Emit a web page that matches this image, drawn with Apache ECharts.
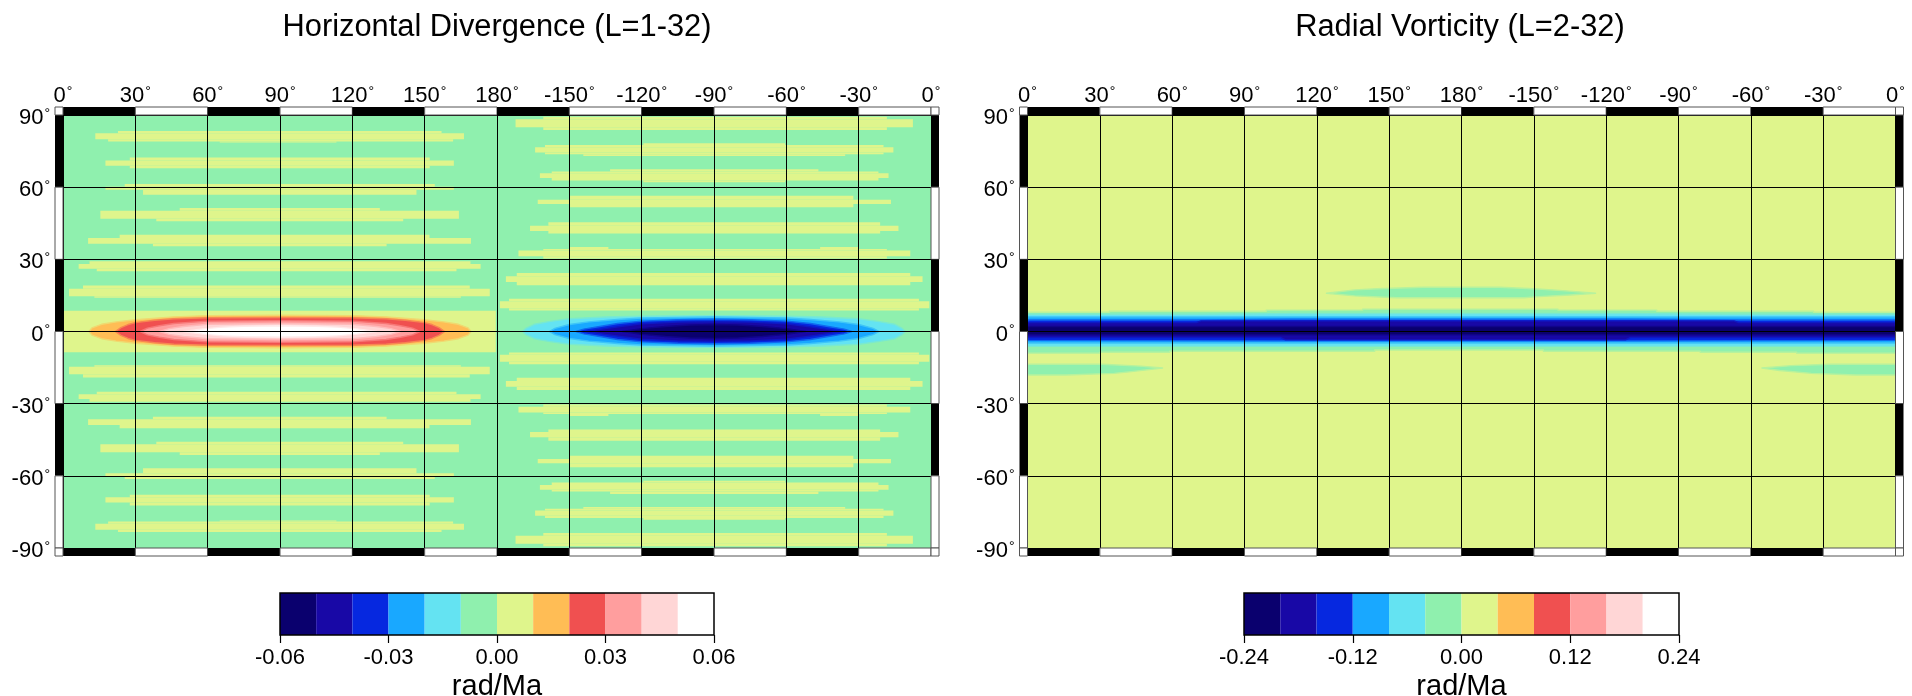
<!DOCTYPE html>
<html>
<head>
<meta charset="utf-8">
<style>html,body{margin:0;padding:0;background:#fff}#c{width:1912px;height:696px;filter:blur(0.4px)}</style>
<script src="https://cdn.jsdelivr.net/npm/echarts@6/dist/echarts.min.js"></script>
</head>
<body>
<div id="c"></div>
<script>
var palette = ['#0a006e','#1808a6','#0628e0','#19a8ff','#64e3f2','#8ff0ae','#dff58c','#ffbd55','#f05050','#ff9e9e','#ffd6d6','#ffffff'];
var lonTicks = ['0','30','60','90','120','150','180','-150','-120','-90','-60','-30','0'];
var latTicks = ['-90','-60','-30','0','30','60','90'];
var titles = ['Horizontal Divergence (L=1-32)','Radial Vorticity (L=2-32)'];
var barUnit = 'rad/Ma';
var divEdges = [-0.06,-0.05,-0.04,-0.03,-0.02,-0.01,0,0.01,0.02,0.03,0.04,0.05,0.06];
var vorEdges = [-0.24,-0.20,-0.16,-0.12,-0.08,-0.04,0,0.04,0.08,0.12,0.16,0.20,0.24];

// Horizontal divergence: positive stripes, north side [latTop, latBottom, lonStart, lonEnd]; the field is N-S symmetric
var divStripesNorth = [
 [83.4,82.4,22.8,157],[82.4,79.9,13.4,166.3],[79.9,79.0,18.7,161.8],[79.0,78.6,65,113.4],
 [72.3,71.1,27.7,152.1],[71.1,68.9,17.6,162.1],[68.9,67.9,27.7,152.1],
 [61.3,60.2,25.6,154.2],[60.2,58.9,17.6,162.1],[58.9,56.8,33.2,146.6],
 [51.3,50.2,48.4,131.4],[50.2,46.9,15.5,164.2],[46.9,45.8,38.7,141.1],
 [40.2,38.9,23.5,152],[38.9,36.5,10.4,169.2],[36.5,35.4,37.3,134.2],
 [29.2,28.1,11,169],[28.1,26.1,6.5,173.2],[26.1,25,14,163.2],
 [19.1,17.8,8.3,168.7],[17.8,14.7,2.5,177],[14.7,14,13,165],
 [8.6,0,0.3,179.5],
 [89.3,88.2,199.2,341.7],[88.2,84.9,187.7,352.5],[84.9,83.8,199.2,341.7],
 [78.3,77.5,240.7,299.5],[77.5,76.6,199.9,340.3],[76.6,74.4,195.8,344.4],[74.4,73.7,199.9,340.3],[73.7,73,215.8,324.4],
 [67.5,66.5,226.9,313.3],[66.5,65.8,202.7,338.2],[65.8,63.8,197.8,342.4],[63.8,62.8,202.7,338.2],[62.8,62,240.7,299.5],
 [56.4,54.8,210.3,327.8],[54.8,53,196.9,343.4],[53,51.7,210.3,327.8],
 [45.4,44,201.3,338.9],[44,41.8,193.7,346.5],[41.8,40.7,201.3,338.9],
 [35.1,34.3,210.3,226.2],[35.1,34.3,314,329.9],[34.3,33.7,199.2,341.7],[33.7,31.3,188.9,351.4],[31.3,30.3,199.2,341.7],
 [24.3,23,188.2,351.4],[23,20.6,183.7,356.5],[20.6,19.2,188.2,351.4],
 [13.6,12.6,185,355],[12.6,9.7,181.2,359.3],[9.7,8.7,185,355]
];
var divStripeValue = 0.005;
var divBackground = -0.005;
var vorBackground = 0.02;

// Equatorial divergence maximum: contour value and its north outline [lon, lat]; south outline mirrors it
var divPosOrange = {value:0.015, north:[[10.8,0],[12,1.5],[16,3],[22,4],[30,4.9],[46,6.1],[60,6.6],[90,6.8],[120,6.6],[134,6.1],[150,4.9],[158,4],[164,3],[168,1.5],[169.2,0]]};
var divPosRed    = {value:0.025, north:[[21.7,0],[24,1.6],[27,2.9],[30,3.7],[38,4.7],[46,5.3],[60,5.7],[90,5.8],[120,5.7],[134,5.3],[142,4.7],[150,3.7],[153,2.9],[156,1.6],[158.3,0]]};
var divPosPink   = {value:0.035, north:[[32,0],[35,1.4],[40,2.4],[46,3.3],[60,4.3],[90,4.5],[120,4.3],[134,3.3],[140,2.4],[145,1.4],[148,0]]};
var divPosLight  = {value:0.045, north:[[40,0],[44,1.2],[50,2.1],[60,3.0],[90,3.3],[120,3.0],[130,2.1],[136,1.2],[140,0]]};
var divPosWhite  = {value:0.055, north:[[50,0],[58,1.1],[66,1.8],[75,2.2],[90,2.4],[105,2.2],[114,1.8],[122,1.1],[130,0]]};
// Equatorial divergence minimum
var divNegCyan   = {value:-0.015, north:[[190.6,0],[192,1.3],[195.5,3],[202,4.2],[210,5.3],[225,6.0],[240,6.4],[270,6.6],[300,6.4],[315,6.0],[330,5.3],[338,4.2],[345,3],[348,1.3],[349.3,0]]};
var divNegAzure  = {value:-0.025, north:[[201.7,0],[204,1.3],[210,2.9],[218,4],[230,5],[240,5.6],[270,6],[300,5.6],[310,5],[322,4],[330,2.9],[336,1.3],[338.5,0]]};
var divNegBlue   = {value:-0.035, north:[[212.8,0],[216,1.0],[222,2],[230,3.3],[240,4.3],[255,4.9],[270,5.1],[285,4.9],[300,4.3],[310,3.3],[318,2],[324,1],[327.1,0]]};
var divNegDark   = {value:-0.045, north:[[217,0],[225,1.2],[232,2.2],[240,3.2],[255,3.9],[270,4.1],[285,3.9],[300,3.2],[308,2.2],[315,1.2],[323,0]]};
var divNegNavy   = {value:-0.055, north:[[232,0],[240,1.2],[250,2.1],[260,2.7],[270,2.9],[280,2.7],[290,2.1],[300,1.2],[308,0]]};

// Radial vorticity: equatorial belt, each contour with north and south outlines [lon, lat]
var vorBeltGreen = {value:-0.02,
 north:[[0,8.0],[34,8.0],[34,8.4],[99,8.4],[99,8.9],[139,8.9],[139,9.3],[220,9.3],[220,8.9],[261,8.9],[261,8.4],[326,8.4],[326,8.0],[360,8.0]],
 south:[[0,-9.0],[30,-9.0],[30,-8.6],[59,-8.6],[59,-8.2],[144,-8.2],[144,-7.7],[214,-7.7],[214,-8.2],[279,-8.2],[279,-8.6],[319,-8.6],[319,-9.0],[360,-9.0]]};
var vorBeltCyan  = {value:-0.06,
 north:[[0,7.2],[70,7.2],[110,7.5],[250,7.5],[290,7.2],[360,7.2]],
 south:[[0,-6.2],[360,-6.2]]};
var vorBeltAzure = {value:-0.10,
 north:[[0,6.1],[360,6.1]],
 south:[[0,-4.8],[360,-4.8]]};
var vorBeltBlue  = {value:-0.14,
 north:[[0,4.8],[70,4.8],[110,5.1],[250,5.1],[295,4.8],[360,4.8]],
 south:[[0,-3.7],[105,-3.9],[250,-3.9],[360,-3.7]]};
var vorBeltDark  = {value:-0.18,
 north:[[0,3.7],[70,3.7],[72,4.4],[293,4.4],[295,3.7],[360,3.7]],
 south:[[0,-2.5],[105,-2.5],[107,-3.5],[248,-3.5],[250,-2.5],[360,-2.5]]};
var vorBeltNavy  = {value:-0.22,
 north:[[0,2.1],[360,2.1]],
 south:[[0,-1.4],[360,-1.4]]};
// Weak isolated negative lenses
var vorLensNorth = {value:-0.02,
 north:[[124,15.9],[135.7,17.3],[145,17.8],[164,18.4],[196,18.4],[210,17.8],[222,17],[235.6,15.9]],
 south:[[124,15.9],[135.7,14.8],[153,14],[206,14],[212,14.5],[225,15.2],[235.6,15.9]]};
var vorLensSouthWest = {value:-0.02,
 north:[[0,-13.6],[31,-13.6],[47,-14.4],[56,-15.2]],
 south:[[0,-18.1],[16,-18.1],[36,-17.4],[43,-16.7],[56,-15.2]]};
var vorLensSouthEast = {value:-0.02,
 north:[[304.6,-15.2],[316.6,-14.2],[333,-13.6],[360,-13.6]],
 south:[[304.6,-15.2],[312,-16.2],[325,-17.4],[343.5,-18.1],[360,-18.1]]};

var FONT = '"Liberation Sans", Arial, sans-serif';
var FRAME = 8;
var degreeRich = {n:{fontSize:22, color:'#000', fontFamily:FONT}, r:{fontSize:14, color:'#000', fontFamily:FONT, verticalAlign:'top', padding:[0,0,0,1]}};

function colorOf(v, range){
  var i = Math.floor((v + range) / (2 * range) * palette.length);
  return palette[Math.max(0, Math.min(palette.length - 1, i))];
}
function mix(a, b){
  var pa = parseInt(a.slice(1), 16), pb = parseInt(b.slice(1), 16);
  var r = ((pa>>16) + (pb>>16)) >> 1, g = (((pa>>8)&255) + ((pb>>8)&255)) >> 1, bl = ((pa&255) + (pb&255)) >> 1;
  return 'rgb(' + r + ',' + g + ',' + bl + ')';
}
function outline(c){
  var south = c.south || c.north.map(function(p){ return [p[0], -p[1]]; });
  return c.north.concat(south.slice().reverse());
}
function rectRender(params, api){
  var a = api.coord([api.value(2), api.value(0)]);
  var b = api.coord([api.value(3), api.value(1)]);
  return {type:'rect', shape:{x:a[0], y:a[1], width:b[0]-a[0], height:b[1]-a[1]}, style:{fill:api.visual('color')}};
}
function contourSeries(list, range, gridIdx, z, edgeColor){
  return {
    type:'custom', coordinateSystem:'cartesian2d', xAxisIndex:gridIdx, yAxisIndex:gridIdx, z:z, silent:true,
    data:list.map(function(c){ return {value:[c.north[0][0], c.north[0][1], c.value]}; }),
    encode:{x:0, y:1},
    renderItem:function(params, api){
      var c = list[params.dataIndex];
      var col = colorOf(c.value, range);
      var prev = params.dataIndex > 0 && list[params.dataIndex-1].value !== c.value ? colorOf(list[params.dataIndex-1].value, range) : edgeColor;
      return {type:'polygon', shape:{points:outline(c).map(function(p){ return api.coord(p); })},
              style:{fill:col, stroke:mix(col, prev), lineWidth:1.4, lineJoin:'round'}};
    }
  };
}
function fieldSeries(rows, range, gridIdx, z){
  return {
    type:'custom', coordinateSystem:'cartesian2d', xAxisIndex:gridIdx, yAxisIndex:gridIdx, z:z, silent:true,
    data:rows, encode:{x:[2,3], y:[0,1]},
    itemStyle:{color:function(p){ return colorOf(p.value[4], range); }},
    renderItem:rectRender
  };
}
function frameSeries(gridIdx){
  var rows = [];
  var i;
  for (i = 0; i < 12; i++) {
    rows.push(['h', i*30, (i+1)*30, 90, i%2]);
    rows.push(['h', i*30, (i+1)*30, -90, i%2]);
  }
  for (i = 0; i < 6; i++) {
    rows.push(['v', 90-i*30, 90-(i+1)*30, 0, i%2]);
    rows.push(['v', 90-i*30, 90-(i+1)*30, 360, i%2]);
  }
  rows.push(['c',0,90,0,1],['c',360,90,0,1],['c',0,-90,0,1],['c',360,-90,0,1]);
  return {
    type:'custom', coordinateSystem:'cartesian2d', xAxisIndex:gridIdx, yAxisIndex:gridIdx, z:6, silent:true, clip:false,
    data:rows.map(function(r){ return {value:[0,0]}; }), encode:{x:0,y:1},
    renderItem:function(params, api){
      var r = rows[params.dataIndex], s, p, q;
      if (r[0] === 'h') {
        p = api.coord([r[1], r[3]]); q = api.coord([r[2], r[3]]);
        s = {x:p[0], y:r[3] > 0 ? p[1]-FRAME : p[1], width:q[0]-p[0], height:FRAME};
      } else if (r[0] === 'v') {
        p = api.coord([r[3], r[1]]); q = api.coord([r[3], r[2]]);
        s = {x:r[3] === 0 ? p[0]-FRAME : p[0], y:p[1], width:FRAME, height:q[1]-p[1]};
      } else {
        p = api.coord([r[1], r[2]]);
        s = {x:r[1] === 0 ? p[0]-FRAME : p[0], y:r[2] > 0 ? p[1]-FRAME : p[1], width:FRAME, height:FRAME};
      }
      return {type:'rect', shape:s, style:r[4] ? {fill:'#fff', stroke:'#555', lineWidth:1} : {fill:'#000'}};
    }
  };
}
function mirrorRows(rows){
  return rows.concat(rows.map(function(r){ return [-r[1], -r[0], r[2], r[3]]; }));
}
function barSeries(edges, gridIdx){
  var rows = palette.map(function(c, i){ return [edges[i], edges[i+1], i]; });
  return [{
    type:'custom', coordinateSystem:'cartesian2d', xAxisIndex:gridIdx, yAxisIndex:gridIdx, z:2, silent:true,
    data:rows, encode:{x:[0,1]},
    renderItem:function(params, api){
      var a = api.coord([api.value(0), 1]), b = api.coord([api.value(1), 0]);
      return {type:'rect', shape:{x:a[0], y:a[1], width:b[0]-a[0], height:b[1]-a[1]}, style:{fill:palette[api.value(2)]}};
    }
  },{
    type:'custom', coordinateSystem:'cartesian2d', xAxisIndex:gridIdx, yAxisIndex:gridIdx, z:3, silent:true,
    data:[[edges[0], edges[edges.length-1]]], encode:{x:[0,1]},
    renderItem:function(params, api){
      var a = api.coord([api.value(0), 1]), b = api.coord([api.value(1), 0]);
      return {type:'rect', shape:{x:a[0], y:a[1], width:b[0]-a[0], height:b[1]-a[1]}, style:{fill:'none', stroke:'#000', lineWidth:1.5}};
    }
  }];
}
function mapX(gridIdx){
  return {gridIndex:gridIdx, type:'value', position:'top', min:0, max:360, interval:30, z:5,
    axisLine:{show:false}, axisTick:{show:false},
    axisLabel:{show:true, margin:8, color:'#000', fontFamily:FONT, hideOverlap:false, showMinLabel:true, showMaxLabel:true, rich:degreeRich,
      formatter:function(v){ return '{n|' + lonTicks[Math.round(v/30)] + '}{r|°}'; }},
    splitLine:{show:true, lineStyle:{color:'#000', width:1}}};
}
function mapY(gridIdx){
  return {gridIndex:gridIdx, type:'value', min:-90, max:90, interval:30, z:5,
    axisLine:{show:false}, axisTick:{show:false},
    axisLabel:{show:true, margin:13, color:'#000', fontFamily:FONT, showMinLabel:true, showMaxLabel:true, rich:degreeRich, padding:[6,0,0,0],
      formatter:function(v){ return '{n|' + latTicks[Math.round((v+90)/30)] + '}{r|°}'; }},
    splitLine:{show:true, lineStyle:{color:'#000', width:1}}};
}
function barX(gridIdx, edges, step){
  return {gridIndex:gridIdx, type:'value', position:'bottom', min:edges[0], max:edges[edges.length-1], interval:step, z:5,
    axisLine:{show:false},
    axisTick:{show:true, length:8, inside:false, lineStyle:{color:'#000', width:1.2}},
    axisLabel:{show:true, margin:12, fontSize:22, color:'#000', fontFamily:FONT, showMinLabel:true, showMaxLabel:true,
      formatter:function(v){ return v.toFixed(2); }},
    splitLine:{show:false},
    name:barUnit, nameLocation:'middle', nameGap:37,
    nameTextStyle:{fontSize:29, color:'#000', fontFamily:FONT}};
}
function barY(gridIdx){
  return {gridIndex:gridIdx, type:'value', min:0, max:1, show:false};
}

var divPos = [divPosOrange, divPosRed, divPosPink, divPosLight, divPosWhite];
var divNeg = [divNegCyan, divNegAzure, divNegBlue, divNegDark, divNegNavy];
var vorBelt = [vorBeltGreen, vorBeltCyan, vorBeltAzure, vorBeltBlue, vorBeltDark, vorBeltNavy];
var vorLens = [vorLensNorth, vorLensSouthWest, vorLensSouthEast];

var divRows = mirrorRows(divStripesNorth).map(function(r){ return r.concat([divStripeValue]); });

var option = {
  backgroundColor:'#fff', animation:false,
  textStyle:{fontFamily:FONT},
  title:[
    {text:titles[0], left:492, top:7, textAlign:'center', textStyle:{fontSize:30.8, fontWeight:'normal', color:'#000', fontFamily:FONT}},
    {text:titles[1], left:1455, top:7, textAlign:'center', textStyle:{fontSize:30.8, fontWeight:'normal', color:'#000', fontFamily:FONT}}
  ],
  grid:[
    {left:63, top:115, width:868, height:433, outerBoundsMode:'none'},
    {left:1027.5, top:115, width:868, height:433, outerBoundsMode:'none'},
    {left:280, top:593, width:434, height:42, outerBoundsMode:'none'},
    {left:1244, top:593, width:435, height:42, outerBoundsMode:'none'}
  ],
  xAxis:[mapX(0), mapX(1), barX(2, divEdges, 0.03), barX(3, vorEdges, 0.12)],
  yAxis:[mapY(0), mapY(1), barY(2), barY(3)],
  series:[
    fieldSeries([[90,-90,0,360,divBackground]], 0.06, 0, 1),
    fieldSeries(divRows, 0.06, 0, 2),
    contourSeries(divPos, 0.06, 0, 3, palette[6]),
    contourSeries(divNeg, 0.06, 0, 3, palette[5]),
    frameSeries(0),
    fieldSeries([[90,-90,0,360,vorBackground]], 0.24, 1, 1),
    contourSeries(vorLens, 0.24, 1, 2, palette[6]),
    contourSeries(vorBelt, 0.24, 1, 3, palette[6]),
    frameSeries(1)
  ].concat(barSeries(divEdges, 2), barSeries(vorEdges, 3))
};
echarts.init(document.getElementById('c'), null, {renderer:'canvas'}).setOption(option);
</script>
</body>
</html>
